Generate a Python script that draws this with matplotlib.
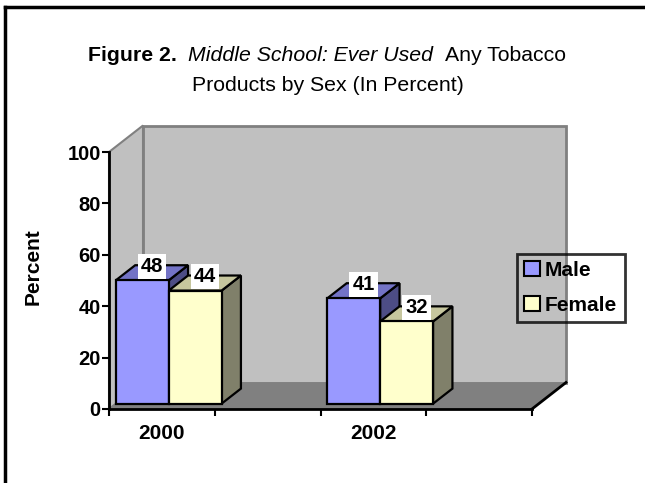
import matplotlib
matplotlib.use("Agg")
import matplotlib.pyplot as plt
from matplotlib.patches import Polygon, Patch
from matplotlib.lines import Line2D

plt.rcParams['font.family'] = ['Liberation Sans', 'DejaVu Sans']

# Survey results, percent who ever used any tobacco product
years = ['2000', '2002']
year_slots = [0, 2]          # category slot of each year on the 4-slot axis
male = [48, 41]
female = [44, 32]
series_names = ['Male', 'Female']
yticks = [0, 20, 40, 60, 80, 100]
n_slots = 4

# colours: front, top, side of each series
male_cols = ('#9999FF', '#7373C6', '#4D4D85')
female_cols = ('#FFFFCC', '#C6C69E', '#80806A')
wall_col = '#C0C0C0'
floor_col = '#808080'

W, H = 645, 483
fig = plt.figure(figsize=(W / 100, H / 100), dpi=100)
fig.patch.set_facecolor('white')

# front plane of the 3-D box, in pixels
x_left, x_right = 109, 532
y_bottom, y_top = 409, 152
ax = fig.add_axes([x_left / W, 1 - y_bottom / H,
                   (x_right - x_left) / W, (y_bottom - y_top) / H])
ax.set_xlim(0, n_slots)
ax.set_ylim(0, 100)
ax.patch.set_visible(False)

# depth of the box in data units (x in slots, y in percent)
DX = 34 / ((x_right - x_left) / n_slots)
DY = 26.5 / ((y_bottom - y_top) / 100)


def poly(pts, fc, ec, lw, z):
    p = Polygon(pts, closed=True, facecolor=fc, edgecolor=ec, linewidth=lw,
                clip_on=False, zorder=z, joinstyle='miter')
    ax.add_patch(p)


# back wall, side wall, floor
poly([(DX, DY), (n_slots + DX, DY), (n_slots + DX, 100 + DY), (DX, 100 + DY)],
     wall_col, '#808080', 2, 0.5)
poly([(0, 0), (DX, DY), (DX, 100 + DY), (0, 100)], wall_col, '#808080', 1.5, 0.6)
poly([(0, 0), (n_slots, 0), (n_slots + DX, DY), (DX, DY)], floor_col, 'none', 0, 0.7)
ax.add_line(Line2D([n_slots, n_slots + DX], [0, DY], color='black', lw=2,
                   clip_on=False, zorder=0.8))

f_front, f_back = 0.2, 0.77


def bar3d(x0, x1, val, cols, z):
    ox, oy = f_front * DX, f_front * DY
    dx, dy = (f_back - f_front) * DX, (f_back - f_front) * DY
    a0, a1, b0, b1 = x0 + ox, x1 + ox, oy, val + oy
    poly([(a1, b0), (a1 + dx, b0 + dy), (a1 + dx, b1 + dy), (a1, b1)], cols[2], 'black', 1.6, z)
    poly([(a0, b1), (a1, b1), (a1 + dx, b1 + dy), (a0 + dx, b1 + dy)], cols[1], 'black', 1.6, z)
    poly([(a0, b0), (a1, b0), (a1, b1), (a0, b1)], cols[0], 'black', 1.6, z)
    # value label sitting on the bar top
    ax.annotate(f'{val}', xy=((a0 + a1) / 2 + dx / 2, b1), xytext=(0, 3),
                textcoords='offset points', ha='center', va='bottom',
                fontsize=14.5, fontweight='bold', zorder=z + 0.5, annotation_clip=False,
                bbox=dict(boxstyle='square,pad=0.15', fc='white', ec='none'))


z = 2
for slot, m, f in zip(year_slots, male, female):
    bar3d(slot, slot + 0.5, m, male_cols, z)
    bar3d(slot + 0.5, slot + 1, f, female_cols, z + 1)
    z += 2

# axes
for s in ['top', 'right']:
    ax.spines[s].set_visible(False)
for s in ['left', 'bottom']:
    ax.spines[s].set_linewidth(2)
    ax.spines[s].set_zorder(10)
ax.set_yticks(yticks)
ax.set_yticklabels([str(t) for t in yticks], fontsize=14.5, fontweight='bold')
ax.set_xticks(range(n_slots + 1))
ax.set_xticklabels([])
ax.set_xticks([s + 0.5 for s in year_slots], years, minor=True)
ax.tick_params(axis='both', which='major', direction='out', length=5, width=1.5, pad=1)
ax.tick_params(axis='x', which='minor', length=0, pad=11, labelsize=15)
for lbl in ax.get_xticklabels(minor=True):
    lbl.set_fontweight('bold')

fig.text(33 / W, 1 - 267 / H, 'Percent', rotation=90, ha='center', va='center',
         fontsize=15, fontweight='bold')

# legend, transparent box over the wall
handles = [Patch(facecolor=male_cols[0], edgecolor='black', linewidth=1.5),
           Patch(facecolor=female_cols[0], edgecolor='black', linewidth=1.5)]
leg = ax.legend(handles, series_names, loc='center left',
                bbox_to_anchor=(517 / W, 1 - 288 / H), bbox_transform=fig.transFigure,
                prop={'size': 15, 'weight': 'bold'}, frameon=True, fancybox=False,
                borderaxespad=0, handlelength=0.75, handleheight=0.75,
                handletextpad=0.25, labelspacing=0.78, borderpad=0.35)
leg.get_frame().set_edgecolor('black')
leg.get_frame().set_linewidth(2)
leg.get_frame().set_facecolor('none')
leg.set_zorder(20)

# title, first line mixes bold, italic and regular text
renderer = fig.canvas.get_renderer()
parts = [('Figure 2.', 'normal', 'bold'),
         ('Middle School: Ever Used', 'italic', 'normal'),
         ('Any Tobacco', 'normal', 'normal')]
gap = 12
tlist = [fig.text(0, 1 - 61 / H, s, style=st, fontweight=wt, fontsize=15.3, va='baseline')
         for s, st, wt in parts]
widths = [t.get_window_extent(renderer).width for t in tlist]
x = 327 - (sum(widths) + gap * (len(widths) - 1)) / 2
for t, w in zip(tlist, widths):
    t.set_x(x / W)
    x += w + gap
fig.text(328 / W, 1 - 91 / H, 'Products by Sex (In Percent)', ha='center',
         va='baseline', fontsize=15.3)

# page frame running off the right and bottom edges
fig.add_artist(Line2D([5 / W, 5 / W], [0, 1 - 7 / H], color='black', lw=2.5))
fig.add_artist(Line2D([5 / W, 1], [1 - 7 / H, 1 - 7 / H], color='black', lw=2.5))

fig.savefig('out.png', dpi=100)
